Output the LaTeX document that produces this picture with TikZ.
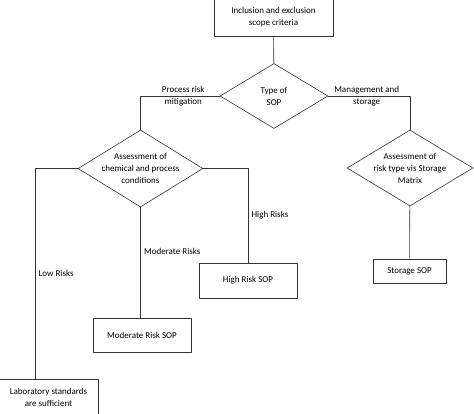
\documentclass[tikz,border=0pt]{standalone}
\usepackage{fontspec}
\setmainfont{Carlito}
\usepackage{tikz}
\usetikzlibrary{calc, positioning, shapes}

\begin{document}
\begin{tikzpicture}[x=1pt,y=-1pt,line join=bevel,
        every node/.style={font=\fontsize{9}{12}\selectfont},
        sopbox/.style={draw=black!80, line width=.6pt, rectangle, inner sep=1pt, align=center},
        decision/.style={draw=black!80, line width=.6pt, diamond, inner sep=0pt},
        link/.style={draw=black!80, line width=.6pt},
        lbl/.style={align=center, inner sep=2pt}]
        \useasboundingbox (0,0) rectangle (474,413);
        % boxes and decisions
        \node[sopbox, minimum width=119pt, minimum height=37pt] (scope) at (273.5,17.5) {Inclusion and exclusion\\scope criteria};
        \node[decision, minimum width=108pt, minimum height=65pt,
              label={[lbl]center:Type of\\SOP}] (type) at (274,96) {};
        \node[decision, minimum width=125pt, minimum height=77pt,
              label={[lbl]center:Assessment of\\chemical and process\\conditions}] (assess) at (140.5,168.5) {};
        \node[decision, minimum width=126pt, minimum height=76pt,
              label={[lbl]center:Assessment of\\risk type vis Storage\\Matrix}] (store) at (410,168) {};
        \node[sopbox, minimum width=98pt, minimum height=35pt] (high) at (248,280.5) {High Risk SOP};
        \node[sopbox, minimum width=98pt, minimum height=34pt] (moderate) at (142,335) {Moderate Risk SOP};
        \node[sopbox, minimum width=73pt, minimum height=24pt] (storage) at (409.5,271) {Storage SOP};
        \node[sopbox, minimum width=99pt, minimum height=36pt] (lab) at (48.5,397) {Laboratory standards\\are sufficient};
        \coordinate (lowx) at (35,0);
        % connectors
        \draw[link] (scope) -- (type);
        \draw[link] (type.west) -| node[lbl, pos=.23] {Process risk\\mitigation} (assess.north);
        \draw[link] (type.east) -| node[lbl, pos=.235] {Management and\\storage} (store.north);
        \draw[link] (assess.west) -| node[right, pos=.75] {Low Risks} (lowx |- lab.north);
        \draw[link] (assess.south) -- node[right, pos=.4] {Moderate Risks} (assess.south |- moderate.north);
        \draw[link] (assess.east) -| node[right, pos=.75] {High Risks} (high.north);
        \draw[link] (store) -- (storage);
\end{tikzpicture}
\end{document}
